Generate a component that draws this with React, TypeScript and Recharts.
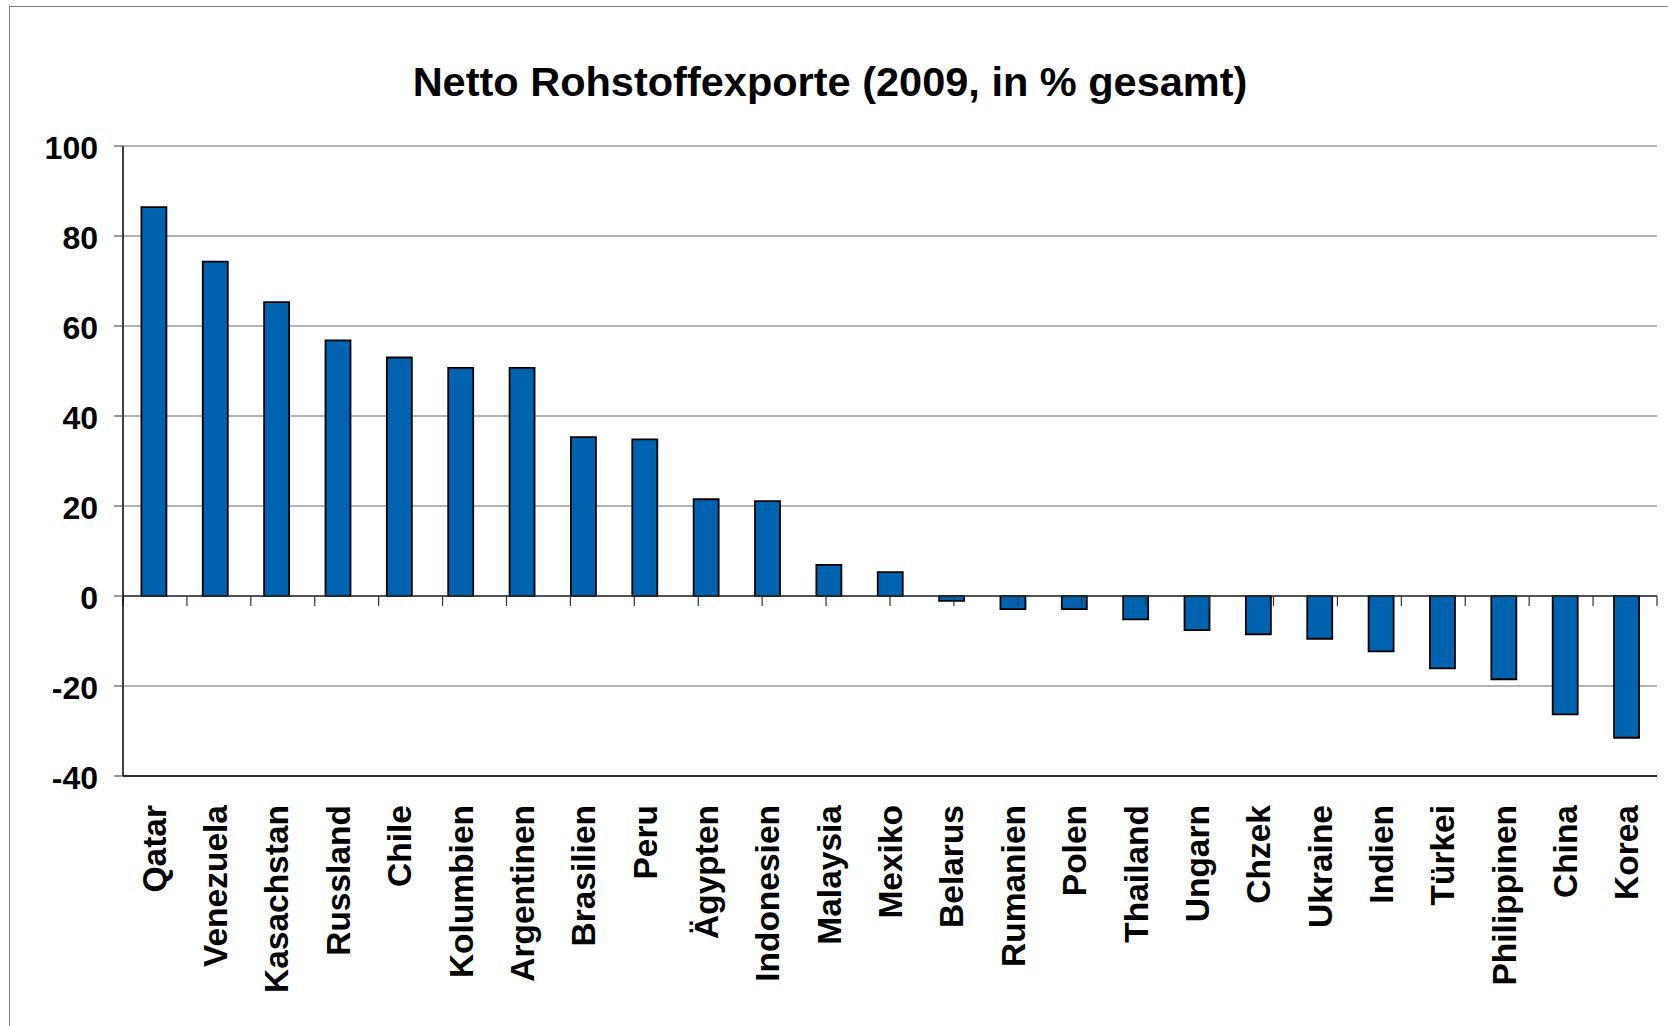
import { BarChart, Bar, XAxis, YAxis, CartesianGrid, ReferenceLine } from "recharts";

const countries = [
  "Qatar", "Venezuela", "Kasachstan", "Russland", "Chile", "Kolumbien", "Argentinen",
  "Brasilien", "Peru", "Ägypten", "Indonesien", "Malaysia", "Mexiko", "Belarus",
  "Rumanien", "Polen", "Thailand", "Ungarn", "Chzek", "Ukraine", "Indien", "Türkei",
  "Philippinen", "China", "Korea",
];

const exports2009 = [
  86.4, 74.3, 65.3, 56.8, 53.0, 50.7, 50.7, 35.3, 34.8, 21.5, 21.1, 6.9, 5.3, -1.1,
  -2.9, -2.9, -5.2, -7.6, -8.5, -9.5, -12.3, -16.1, -18.5, -26.3, -31.5,
];

const yTicks = [-40, -20, 0, 20, 40, 60, 80, 100];

const boundaries = Array.from({ length: countries.length + 1 }, (_, i) => i);

const data = countries.map((name, i) => ({ name, value: exports2009[i] }));

const FONT = "'Liberation Sans', Arial, sans-serif";

function CountryTick({ x, y, payload }: any) {
  return (
    <g transform={`translate(${x},${y + 21})`}>
      <text
        transform="rotate(-90)"
        textAnchor="end"
        dy="0.36em"
        fontFamily={FONT}
        fontWeight="bold"
        fontSize={33.5}
        fill="#000"
      >
        {payload.value}
      </text>
    </g>
  );
}

export default function App() {
  return (
    <div style={{ position: "absolute", left: 0, top: 0, width: 1668, height: 1026, overflow: "hidden", background: "#fff" }}>
      <div
        style={{
          position: "absolute",
          left: 9,
          top: 6,
          width: 1700,
          height: 1100,
          border: "1.5px solid #7f7f7f",
        }}
      />
      <div
        style={{
          position: "absolute",
          left: 0,
          top: 58,
          width: 1668,
          textAlign: "center",
          fontFamily: FONT,
          fontWeight: "bold",
          fontSize: 41.5,
          color: "#000",
        }}
      >
        <span style={{ position: "relative", left: -4 }}>Netto Rohstoffexporte (2009, in % gesamt)</span>
      </div>
      <div style={{ position: "absolute", left: 0, top: 0 }}>
        <BarChart
          width={1668}
          height={1026}
          data={data}
          margin={{ top: 146, right: 11, left: 0, bottom: 0 }}
          barCategoryGap="30%"
        >
          <CartesianGrid vertical={false} stroke="#6b6b6b" strokeWidth={1.2} />
          <XAxis
            xAxisId="cat"
            dataKey="name"
            interval={0}
            height={250}
            axisLine={{ stroke: "#000", strokeWidth: 1.5 }}
            tickLine={false}
            tick={<CountryTick />}
          />
          <XAxis xAxisId="b" type="number" domain={[0, countries.length]} height={0} hide />
          <YAxis
            domain={[-40, 100]}
            ticks={yTicks}
            width={123}
            interval={0}
            axisLine={{ stroke: "#000", strokeWidth: 1.5 }}
            tickLine={{ stroke: "#555", strokeWidth: 1.2 }}
            tickSize={9}
            tickMargin={16}
            tick={{ fill: "#000", fontFamily: FONT, fontWeight: "bold", fontSize: 32, dy: 2 }}
          />
          <ReferenceLine xAxisId="b" x={countries.length} stroke="#6b6b6b" strokeWidth={1.2} />
          <Bar
            xAxisId="cat"
            dataKey="value"
            fill="#0063B0"
            stroke="#000"
            strokeWidth={1.8}
            isAnimationActive={false}
          />
          <ReferenceLine xAxisId="b" y={0} stroke="#333" strokeWidth={1.3} />
          {boundaries.map((i) => (
            <ReferenceLine
              key={i}
              xAxisId="b"
              segment={[
                { x: i, y: 0 },
                { x: i, y: -2.2 },
              ]}
              stroke="#333"
              strokeWidth={1.2}
            />
          ))}
        </BarChart>
      </div>
    </div>
  );
}
